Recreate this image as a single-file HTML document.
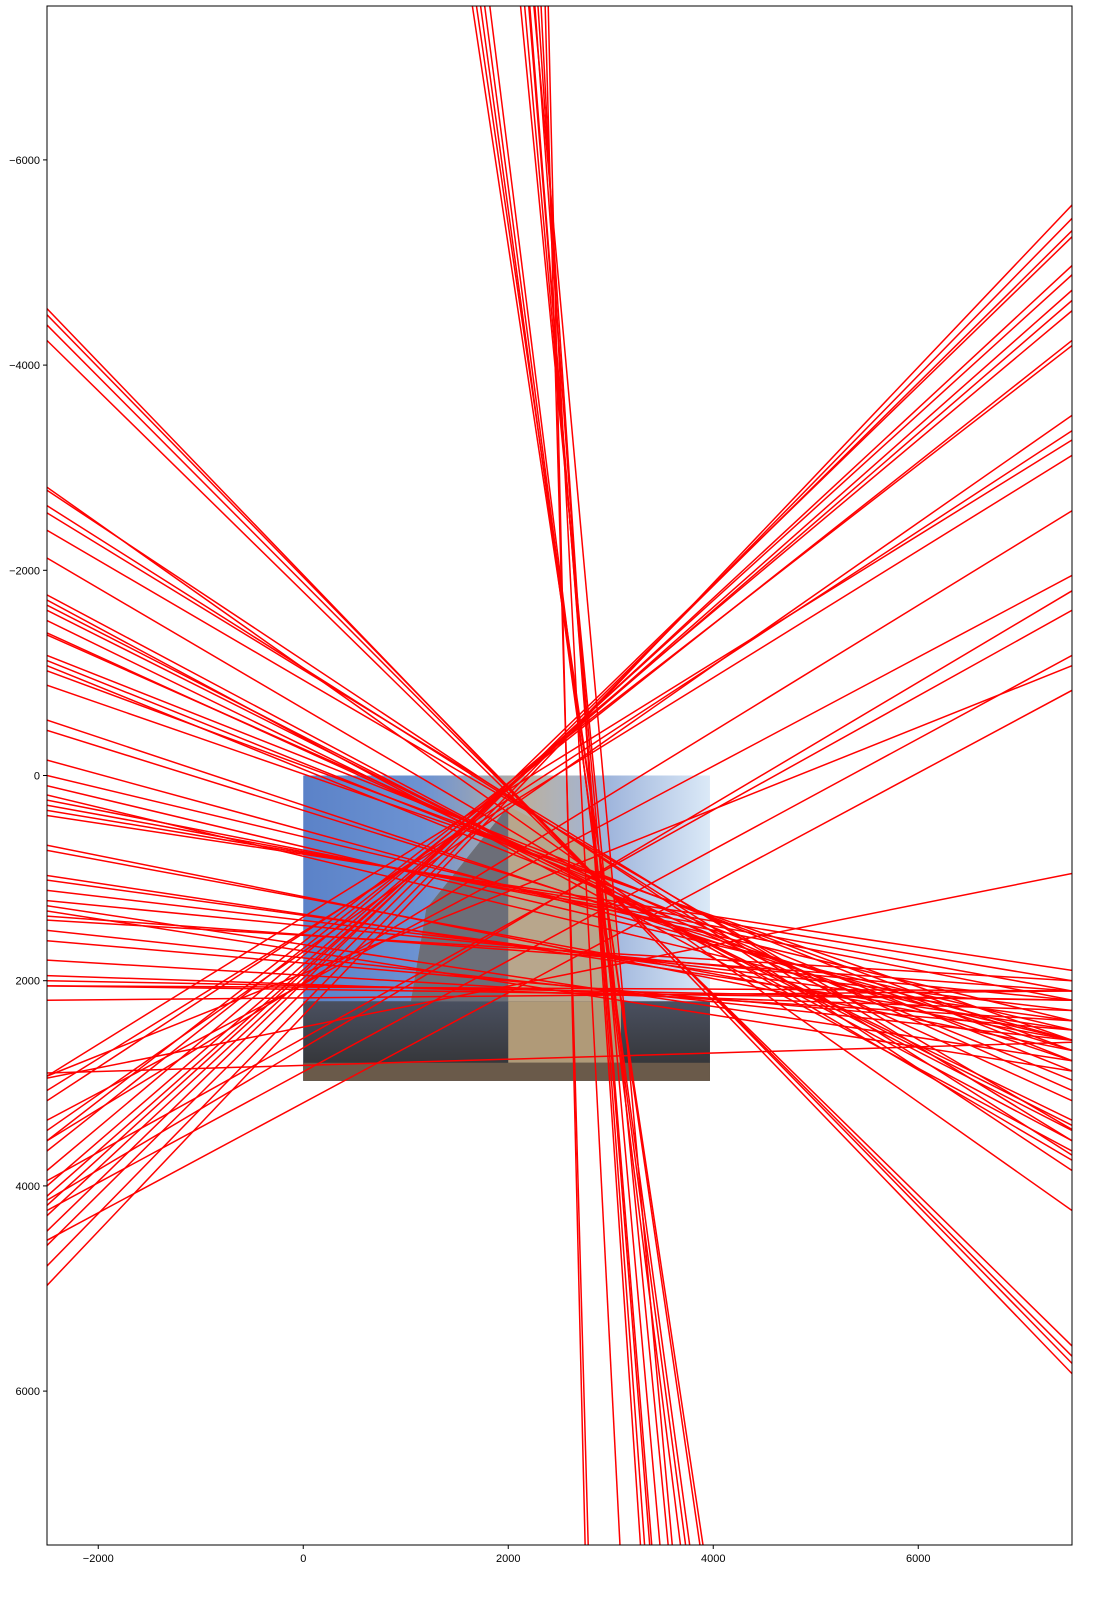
<!DOCTYPE html>
<html><head><meta charset="utf-8"><style>
body{margin:0;background:#fff;}
svg text{font-family:"Liberation Sans",sans-serif;font-size:11px;fill:#000;}
</style></head><body>
<svg id="chart" width="1105" height="1607" viewBox="0 0 1105 1607" xmlns="http://www.w3.org/2000/svg">
<defs>
<linearGradient id="sky" x1="0" x2="1" y1="0" y2="0">
<stop offset="0" stop-color="#5b82c8"/><stop offset="0.3" stop-color="#6d93d2"/><stop offset="0.55" stop-color="#b9b0a2"/><stop offset="0.75" stop-color="#9fb5dc"/><stop offset="1" stop-color="#dbe9f7"/>
</linearGradient>
<linearGradient id="ground" x1="0" x2="0" y1="0" y2="1">
<stop offset="0" stop-color="#4a5060"/><stop offset="1" stop-color="#303030"/>
</linearGradient>
<clipPath id="plotclip"><rect x="47" y="6" width="1025" height="1539"/></clipPath>
</defs>
<g id="photo"></g>
<g id="lines" clip-path="url(#plotclip)"></g>
<rect x="47" y="6" width="1025" height="1539" fill="none" stroke="#000" stroke-width="1"/>
<g id="xaxis"></g>
<g id="yaxis"></g>
</svg>
<script>
const xTicks=[-2000,0,2000,4000,6000];
const yTicks=[-6000,-4000,-2000,0,2000,4000,6000];
// horizontal-ish lines: y at x=-2500 and y at x=7500
const leftY=[4970,4780,4580,4440,4290,4190,4100,4000,3850,3660,3560,3460,3170,2930,3070,3560,3360,4140,3950,4240,2930,4530,2950,2900,
-4550,-4490,-4390,-4240,-2810,-2780,-2630,-2560,-2390,-2120,-1760,-1710,-1660,-1610,-1510,-1390,-1370,-1170,-1120,-1070,-1020,-880,-540,-440,-150,
0,100,190,240,290,340,390,680,730,975,1020,1120,1220,1270,1320,1370,1410,1510,1610,1800,1950,2050,2190,2000,2050];
const rightY=[-5560,-5430,-5310,-5250,-4970,-4880,-4730,-4630,-4530,-4240,-4190,-3510,-3360,-3270,-3120,-2580,-1950,-1800,-1610,-1170,-1070,-830,955,2600,
5830,5730,5660,5560,4240,3850,3700,3560,3450,3750,3560,3660,3460,3410,3360,3170,3070,2780,2880,2970,2680,2580,2780,2680,2580,
2390,2480,2580,2190,2100,2000,1900,2680,2580,2480,2390,2290,2190,2780,2880,2100,2000,2580,2480,2390,2290,2190,2100,2190,2100];
// steep lines: x at y=-7500 and x at y=7500
const topX=[1650,1690,1730,1770,1820,2120,2160,2210,2260,2290,2320,2360,2390,2200,2250];
const bottomX=[3900,3870,3770,3730,3680,3560,3480,3380,3330,3290,3090,2780,2750,3400,3600];
const X0=-2500,X1=7500,Y0=-7500,Y1=7500,PL=47,PR=1072,PT=6,PB=1545;
const sx=v=>PL+(v-X0)/(X1-X0)*(PR-PL);
const sy=v=>PT+(v-Y0)/(Y1-Y0)*(PB-PT);
const NS="http://www.w3.org/2000/svg";
function mk(t,a,p){const e=document.createElementNS(NS,t);for(const k in a)e.setAttribute(k,a[k]);p.appendChild(e);return e;}
// photo
const ph=document.getElementById('photo');
const ix0=sx(0),ix1=sx(3968),iy0=sy(0),iy1=sy(2976);
mk('rect',{x:ix0,y:iy0,width:ix1-ix0,height:iy1-iy0,fill:'url(#sky)'},ph);
mk('polygon',{points:`${sx(1050)},${sy(2200)} ${sx(1200)},${sy(1300)} ${sx(2000)},${sy(300)} ${sx(3000)},${sy(800)} ${sx(3100)},${sy(2200)}`,fill:'#b8a68c'},ph);
mk('polygon',{points:`${sx(1050)},${sy(2200)} ${sx(1200)},${sy(1300)} ${sx(2000)},${sy(300)} ${sx(2000)},${sy(2200)}`,fill:'#6c6e78'},ph);
mk('rect',{x:ix0,y:sy(2200),width:ix1-ix0,height:iy1-sy(2200),fill:'url(#ground)'},ph);
mk('rect',{x:sx(2000),y:sy(2200),width:sx(3100)-sx(2000),height:sy(2800)-sy(2200),fill:'#b09a78'},ph);
mk('rect',{x:ix0,y:sy(2800),width:ix1-ix0,height:iy1-sy(2800),fill:'#6a5a4a'},ph);
// lines
const lg=document.getElementById('lines');
for(let i=0;i<leftY.length;i++){
 const l=mk('line',{x1:sx(X0),y1:sy(leftY[i]),x2:sx(X1),y2:sy(rightY[i]),stroke:'#ff0000','stroke-width':1.5},lg);
 
 
}
for(let i=0;i<topX.length;i++){
 const l=mk('line',{x1:sx(topX[i]),y1:sy(Y0),x2:sx(bottomX[i]),y2:sy(Y1),stroke:'#ff0000','stroke-width':1.5},lg);
 
 
}
// axes
const xa=document.getElementById('xaxis');
xTicks.forEach(v=>{
 mk('line',{x1:sx(v),x2:sx(v),y1:PB,y2:PB+4,stroke:'#000'},xa);
 const t=mk('text',{x:sx(v),y:PB+17,'text-anchor':'middle'},xa);t.textContent=String(v).replace('-','\u2212');
 
 
});
const ya=document.getElementById('yaxis');
yTicks.forEach(v=>{
 mk('line',{x1:PL-4,x2:PL,y1:sy(v),y2:sy(v),stroke:'#000'},ya);
 const t=mk('text',{x:PL-7,y:sy(v)+4,'text-anchor':'end'},ya);t.textContent=String(v).replace('-','\u2212');
 
 
});
</script>
</body></html>
